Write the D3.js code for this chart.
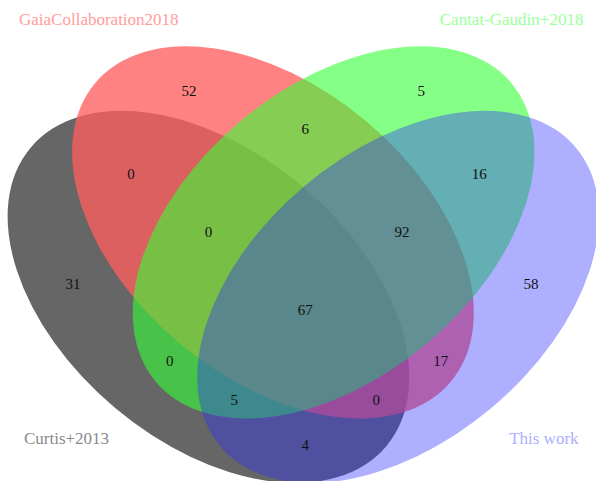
<!DOCTYPE html>
<html>
<head>
<meta charset="utf-8">
<script src="https://cdn.jsdelivr.net/npm/d3@7"></script>
<style>
  html, body { margin: 0; padding: 0; background: #fff; }
  svg { display: block; }
</style>
</head>
<body>
<div id="chart"></div>
<script>
// set names, order A B C D
const setNames = ['Curtis+2013', 'GaiaCollaboration2018', 'Cantat-Gaudin+2018', 'This work'];
const setColors = ['rgba(0,0,0,0.6)', 'rgba(255,95,95,0.78)', 'rgba(51,255,51,0.6)', 'rgba(45,45,255,0.38)'];
const nameColors = ['#8a8a8a', '#ff9c9c', '#9cff9c', '#aeaeff'];

// region membership keys (A B C D) and their counts
const regionKeys = ['0001', '0010', '0011', '0100', '0101', '0110', '0111', '1000',
                    '1001', '1010', '1011', '1100', '1101', '1110', '1111'];
const regionCounts = [58, 5, 16, 52, 17, 6, 92, 31, 4, 0, 5, 0, 0, 0, 67];

const width = 596, height = 481;

// unit-square layout of a 4 ellipse venn
const ellipses = [
  {cx: 0.350, cy: 0.400, w: 0.72, h: 0.45, angle: 140},
  {cx: 0.450, cy: 0.500, w: 0.72, h: 0.45, angle: 140},
  {cx: 0.544, cy: 0.500, w: 0.72, h: 0.45, angle: 40},
  {cx: 0.644, cy: 0.400, w: 0.72, h: 0.45, angle: 40}
];
const labelPos = {
  '0001': [0.85, 0.42], '0010': [0.68, 0.72], '0011': [0.77, 0.59], '0100': [0.32, 0.72],
  '0101': [0.71, 0.30], '0110': [0.50, 0.66], '0111': [0.65, 0.50], '1000': [0.14, 0.42],
  '1001': [0.50, 0.17], '1010': [0.29, 0.30], '1011': [0.39, 0.24], '1100': [0.23, 0.59],
  '1101': [0.61, 0.24], '1110': [0.35, 0.50], '1111': [0.50, 0.38]
};
const namePos = [[0.13, 0.18], [0.18, 0.83], [0.82, 0.83], [0.87, 0.18]];

const k = 645;
const x = d3.scaleLinear().domain([0, 1]).range([-17.3, -17.3 + k]);
const y = d3.scaleLinear().domain([0, 1]).range([554.9, 554.9 - k]);

const svg = d3.select('#chart')
  .append('svg')
  .attr('width', width)
  .attr('height', height);

// ellipses
svg.append('g')
  .selectAll('ellipse')
  .data(ellipses)
  .enter()
  .append('ellipse')
  .attr('transform', d => 'translate(' + x(d.cx) + ',' + y(d.cy) + ') rotate(' + (-d.angle) + ')')
  .attr('rx', d => (x(d.w) - x(0)) / 2)
  .attr('ry', d => (x(d.h) - x(0)) / 2)
  .style('fill', (d, i) => setColors[i]);

// region counts
svg.append('g')
  .selectAll('text')
  .data(regionKeys)
  .enter()
  .append('text')
  .attr('x', d => x(labelPos[d][0]))
  .attr('y', d => y(labelPos[d][1]))
  .attr('text-anchor', 'middle')
  .attr('dominant-baseline', 'central')
  .style('font-family', '"Liberation Serif", serif')
  .style('font-size', '15px')
  .style('fill', '#111')
  .text((d, i) => regionCounts[i]);

// set names
svg.append('g')
  .selectAll('text')
  .data(setNames)
  .enter()
  .append('text')
  .attr('x', (d, i) => x(namePos[i][0]))
  .attr('y', (d, i) => y(namePos[i][1]))
  .attr('text-anchor', 'middle')
  .attr('dominant-baseline', 'central')
  .style('font-family', '"Liberation Serif", serif')
  .style('font-size', '17px')
  .style('fill', (d, i) => nameColors[i])
  .text(d => d);
</script>
</body>
</html>
